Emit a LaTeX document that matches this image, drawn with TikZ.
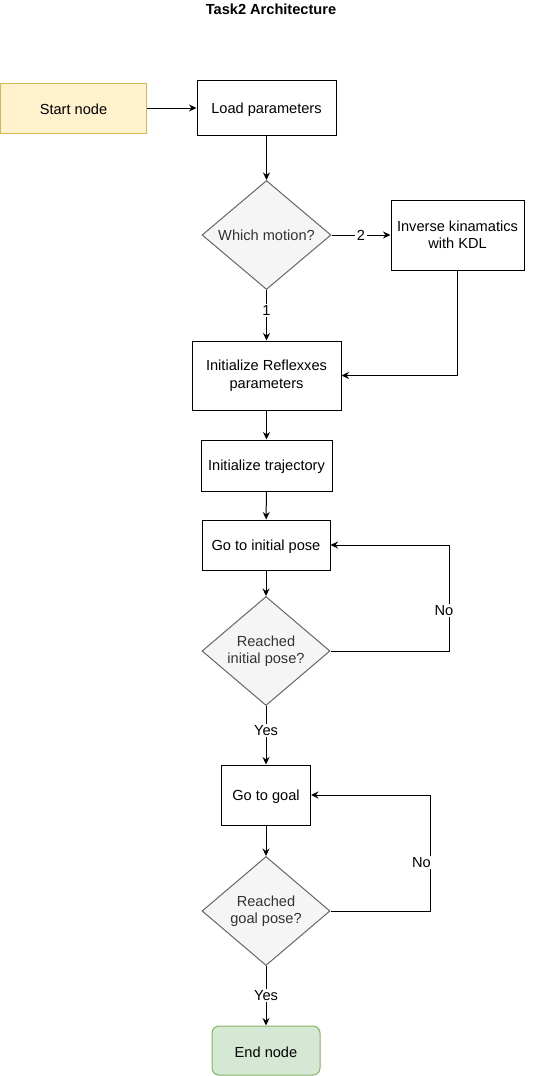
\documentclass[tikz,border=0pt]{standalone}
\usepackage{fontspec}
\setmainfont{Liberation Sans}
\usetikzlibrary{shapes.geometric,arrows.meta}
\definecolor{startfill}{HTML}{FFF2CC}
\definecolor{startline}{HTML}{D6B656}
\definecolor{decfill}{HTML}{F5F5F5}
\definecolor{decline}{HTML}{666666}
\definecolor{dectext}{HTML}{333333}
\definecolor{endfill}{HTML}{D5E8D4}
\definecolor{endline}{HTML}{82B366}

\begin{document}
\begin{tikzpicture}[x=1pt,y=-1pt,
  font=\fontsize{14.6}{17.5}\selectfont,
  every node/.style={align=center, inner sep=0pt},
  lowtext/.style={execute at begin node={\rule{0pt}{14pt}}},
  proc/.style={draw=black, line width=1pt, fill=white, lowtext},
  decision/.style={diamond, shape aspect=1.17, draw=decline, fill=decfill,
    text=dectext, line width=1pt, minimum width=128pt, minimum height=109pt},
  flow/.style={-{Stealth[length=7.5pt,width=7pt]}, line width=1pt},
  lbl/.style={fill=white, inner sep=1.5pt}
]
\useasboundingbox (0,0) rectangle (535,1076);

% title
\node[font=\fontsize{14.6}{17.5}\selectfont\bfseries] (title) at (271,9) {Task2 Architecture};

% nodes
\node[draw=startline, fill=startfill, line width=1pt, lowtext,
  minimum width=146pt, minimum height=50pt] (start) at (73.5,108) {Start node};
\node[proc, minimum width=139pt, minimum height=55pt] (load) at (266.5,108) {Load parameters};
\node[decision, minimum width=129pt] (which) at (266.5,235) {Which motion?};
\node[proc, minimum width=133pt, minimum height=70pt] (ik) at (457.5,235) {Inverse kinamatics\\with KDL};
\node[proc, minimum width=149pt, minimum height=69pt] (reflex) at (266.5,375.5) {Initialize Reflexxes\\parameters};
\node[proc, minimum width=131pt, minimum height=51pt] (traj) at (266.5,465.5) {Initialize trajectory};
\node[proc, minimum width=128pt, minimum height=50pt] (goinit) at (266,545) {Go to initial pose};
\node[decision] (reachinit) at (266,651) {Reached\\initial pose?};
\node[proc, minimum width=89pt, minimum height=60pt] (gogoal) at (266,795) {Go to goal};
\node[decision] (reachgoal) at (266,911) {Reached\\goal pose?};
\node[draw=endline, fill=endfill, line width=1pt, rounded corners=7pt, lowtext,
  minimum width=108pt, minimum height=49pt] (end) at (266,1050.5) {End node};

% loop corners
\coordinate (loopinit) at (449,651);
\coordinate (loopgoal) at (430.5,911);

% connectors
\draw[flow] (start) -- (load);
\draw[flow] (load) -- (which);
\draw[flow] (which.east) -- node[lbl] {2} (ik.west);
\draw[flow] (which.south) -- node[lbl, pos=0.4] {1} (reflex.north);
\draw[flow] (ik.south) |- (reflex.east);
\draw[flow] (reflex) -- (traj);
\draw[flow] (traj) -- (goinit);
\draw[flow] (goinit) -- (reachinit);
\draw[flow] (reachinit.east) -- (loopinit) |- node[lbl, pos=0.19, xshift=-5pt] {No} (goinit.east);
\draw[flow] (reachinit.south) -- node[lbl, pos=0.42] {Yes} (gogoal.north);
\draw[flow] (gogoal) -- (reachgoal);
\draw[flow] (reachgoal.east) -- (loopgoal) |- node[lbl, pos=0.21, xshift=-9pt] {No} (gogoal.east);
\draw[flow] (reachgoal.south) -- node[lbl] {Yes} (end.north);
\end{tikzpicture}
\end{document}
